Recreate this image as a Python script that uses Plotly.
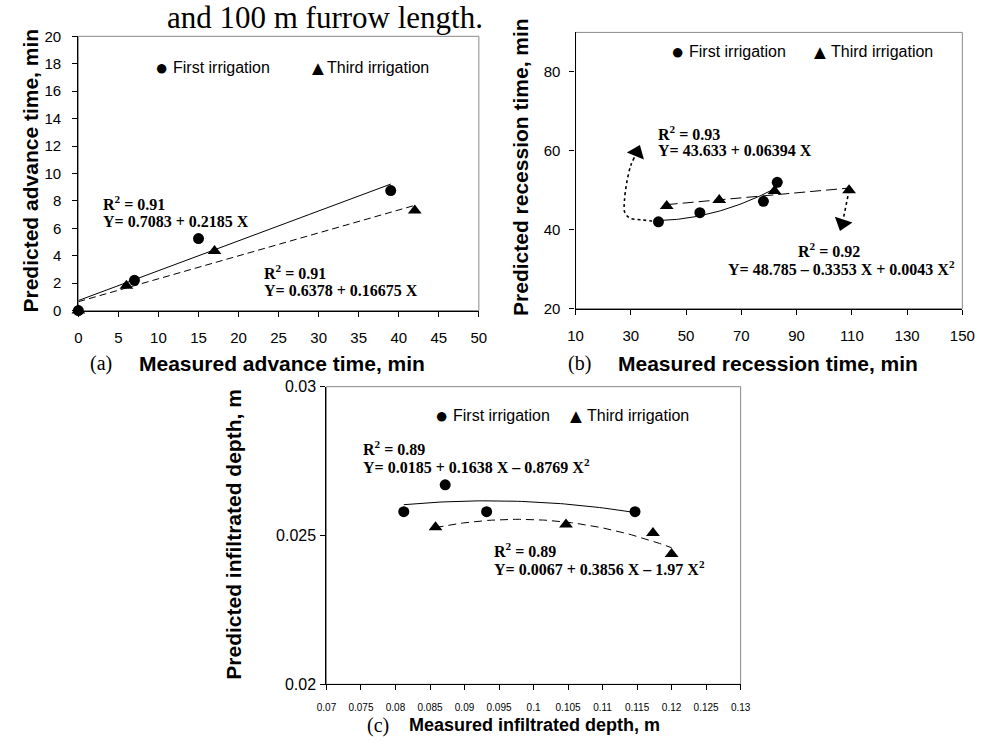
import numpy as np
import plotly.graph_objects as go

W, H = 990, 745

# ---------------- data ----------------
# Panel (a) advance time
a_first_x = [0, 7, 15, 39]
a_first_y = [0, 2.2, 5.25, 8.75]
a_third_x = [0, 6, 17, 42]
a_third_y = [0, 1.8, 4.35, 7.3]

# Panel (b) recession time
b_first_x = [40, 55, 78, 83]
b_first_y = [42, 44.3, 47.2, 52]
b_third_x = [43, 62, 82, 109]
b_third_y = [46, 47.5, 49.8, 50]

# Panel (c) infiltrated depth
c_first_x = [0.0812, 0.0872, 0.0932, 0.1147]
c_first_y = [0.0258, 0.0267, 0.0258, 0.0258]
c_third_x = [0.0858, 0.1047, 0.1173, 0.1200]
c_third_y = [0.02528, 0.02537, 0.02508, 0.02438]

# tick labels
a_xticks = [0, 5, 10, 15, 20, 25, 30, 35, 40, 45, 50]
a_yticks = [0, 2, 4, 6, 8, 10, 12, 14, 16, 18, 20]
b_xticks = [10, 30, 50, 70, 90, 110, 130, 150]
b_yticks = [20, 40, 60, 80]
c_xticks = [0.07, 0.075, 0.08, 0.085, 0.09, 0.095, 0.1, 0.105, 0.11, 0.115, 0.12, 0.125, 0.13]
c_xtext = ["0.07", "0.075", "0.08", "0.085", "0.09", "0.095", "0.1", "0.105", "0.11", "0.115", "0.12", "0.125", "0.13"]
c_yticks = [0.02, 0.025, 0.03]
c_ytext = ["0.02", "0.025", "0.03"]

# dotted pointer paths in panel (b)
b_arrow1_x = [40, 33.9, 29.8, 27.8, 27.7, 28.6, 30.0, 31.3]
b_arrow1_y = [42, 42.5, 42.9, 44.4, 47.2, 52.2, 56.3, 58.3]
b_arrow1_head = (32.2, 59.6)
b_arrow2_x = [109, 108.0, 107.0]
b_arrow2_y = [50, 46.0, 43.0]
b_arrow2_head = (106.6, 41.6)

SANS = "Arial, Liberation Sans, sans-serif"
SERIF = "Times New Roman, Liberation Serif, serif"

fig = go.Figure()


def trend(x, y, deg, n=60):
    coef = np.polyfit(x, y, deg)
    xs = np.linspace(min(x), max(x), n)
    return xs, np.polyval(coef, xs)


def add_panel(fx, fy, tx, ty, deg_f, deg_t, xa, ya, dash):
    xs, ys = trend(fx, fy, deg_f)
    fig.add_trace(go.Scatter(x=xs, y=ys, mode="lines", line=dict(color="black", width=1),
                             xaxis=xa, yaxis=ya, showlegend=False, hoverinfo="skip"))
    xs, ys = trend(tx, ty, deg_t)
    fig.add_trace(go.Scatter(x=xs, y=ys, mode="lines", line=dict(color="black", width=1, dash=dash),
                             xaxis=xa, yaxis=ya, showlegend=False, hoverinfo="skip"))
    fig.add_trace(go.Scatter(x=tx, y=ty, mode="markers", name="Third irrigation",
                             marker=dict(symbol="triangle-up", size=12, color="black"),
                             xaxis=xa, yaxis=ya, showlegend=False, cliponaxis=False))
    fig.add_trace(go.Scatter(x=fx, y=fy, mode="markers", name="First irrigation",
                             marker=dict(symbol="circle", size=11, color="black"),
                             xaxis=xa, yaxis=ya, showlegend=False, cliponaxis=False))


add_panel(a_first_x, a_first_y, a_third_x, a_third_y, 1, 1, "x", "y", "7px,4px")
add_panel(b_first_x, b_first_y, b_third_x, b_third_y, 2, 1, "x2", "y2", "11px,5px")
add_panel(c_first_x, c_first_y, c_third_x, c_third_y, 2, 2, "x3", "y3", "8px,5px")

# dotted pointers (panel b)
fig.add_trace(go.Scatter(x=b_arrow1_x, y=b_arrow1_y, mode="lines",
                         line=dict(color="black", width=1.6, dash="dot", shape="spline"),
                         xaxis="x2", yaxis="y2", showlegend=False, hoverinfo="skip"))
fig.add_trace(go.Scatter(x=b_arrow2_x, y=b_arrow2_y, mode="lines",
                         line=dict(color="black", width=1.6, dash="dot"),
                         xaxis="x2", yaxis="y2", showlegend=False, hoverinfo="skip"))
fig.add_trace(go.Scatter(x=[b_arrow1_head[0]], y=[b_arrow1_head[1]], mode="markers",
                         marker=dict(symbol="triangle-up", size=16, color="black", angle=22),
                         xaxis="x2", yaxis="y2", showlegend=False, hoverinfo="skip"))
fig.add_trace(go.Scatter(x=[b_arrow2_head[0]], y=[b_arrow2_head[1]], mode="markers",
                         marker=dict(symbol="triangle-down", size=16, color="black", angle=18),
                         xaxis="x2", yaxis="y2", showlegend=False, hoverinfo="skip"))


def px(x):
    return x / W


def py(y):
    return 1 - y / H


def axis_common(size=15):
    return dict(showline=True, linecolor="black", linewidth=1.3, ticks="outside", ticklen=5,
                tickcolor="black", tickwidth=1, showgrid=False, zeroline=False,
                tickfont=dict(family=SANS, size=size, color="black"), mirror=False)


fig.update_layout(
    width=W, height=H, margin=dict(l=0, r=0, t=0, b=0),
    paper_bgcolor="white", plot_bgcolor="white",
    xaxis=dict(domain=[px(70), px(480)], range=[0, 50], tickvals=a_xticks, anchor="y",
               ticklabelstandoff=8, **axis_common()),
    yaxis=dict(domain=[py(309), py(28)], range=[0, 20], tickvals=a_yticks, anchor="x",
               ticklabelstandoff=8, **axis_common()),
    xaxis2=dict(domain=[px(579), px(975)], range=[10, 150], tickvals=b_xticks, anchor="y2",
                ticklabelstandoff=8, **axis_common()),
    yaxis2=dict(domain=[py(307), py(24)], range=[20, 90], tickvals=b_yticks, anchor="x2",
                ticklabelstandoff=6, **axis_common()),
    xaxis3=dict(domain=[px(324), px(748)], range=[0.07, 0.13], tickvals=c_xticks, ticktext=c_xtext,
                anchor="y3", ticklabelstandoff=9, **axis_common(10)),
    yaxis3=dict(domain=[py(692), py(387)], range=[0.02, 0.03], tickvals=c_yticks, ticktext=c_ytext,
                anchor="x3", ticklabelstandoff=1, **axis_common(16)),
)

# grey frame (top / right borders)
for xr, yr in [("x", "y"), ("x2", "y2"), ("x3", "y3")]:
    fig.add_shape(type="rect", xref=f"{xr} domain", yref=f"{yr} domain", x0=0, x1=1, y0=0, y1=1,
                  line=dict(color="#8a8a8a", width=1), layer="below")

anns = []


def ann(text, x, y, size, family, xanchor="left", yanchor="middle", angle=0):
    anns.append(dict(text=text, x=px(x), y=py(y), xref="paper", yref="paper", showarrow=False,
                     xanchor=xanchor, yanchor=yanchor, textangle=angle,
                     font=dict(family=family, size=size, color="black")))


# caption fragment at top
ann("and 100 m furrow length.", 159, 9, 31, SERIF)

# axis titles
ann("<b>Predicted advance time, min</b>", 21, 166, 21, SANS, "center", "middle", -90)
ann("<b>Measured advance time, min</b>", 278, 363, 21, SANS, "center")
ann("(a)", 93, 363, 20, SERIF, "center")
ann("<b>Predicted recession time, min</b>", 522, 162, 21, SANS, "center", "middle", -90)
ann("<b>Measured recession time, min</b>", 776, 363, 21, SANS, "center")
ann("(b)", 583, 363, 20, SERIF, "center")
ann("<b>Predicted infiltrated depth, m</b>", 228, 538, 21, SANS, "center", "middle", -90)
ann("<b>Measured infiltrated depth, m</b>", 537, 734, 18, SANS, "center")
ann("(c)", 377, 734, 20, SERIF, "center")

# legends (symbol glyph + label)
for (cx, tx, ly) in [(155, 165, 60), (683, 693, 44), (442, 451, 417)]:
    ann("\u25CF", cx, ly, 22, SANS, "center")
    ann("First irrigation", tx, ly, 16, SANS)
for (cx, tx, ly) in [(315, 323, 60), (829, 838, 44), (579, 589, 417)]:
    ann("\u25B2", cx, ly, 20, SANS, "center")
    ann("Third irrigation", tx, ly, 16, SANS)

# regression labels
ann("<b>R<sup>2</sup> = 0.91</b>", 93, 199, 16, SERIF)
ann("<b>Y= 0.7083 + 0.2185 X</b>", 93, 218, 16, SERIF)
ann("<b>R<sup>2</sup> = 0.91</b>", 258, 269, 16, SERIF)
ann("<b>Y= 0.6378 + 0.16675 X</b>", 258, 288, 16, SERIF)

ann("<b>R<sup>2</sup> = 0.93</b>", 661, 127, 16, SERIF)
ann("<b>Y= 43.633 + 0.06394 X</b>", 661, 145, 16, SERIF)
ann("<b>R<sup>2</sup> = 0.92</b>", 805, 247, 16, SERIF)
ann("<b>Y= 48.785 \u2013 0.3353 X + 0.0043 X<sup>2</sup></b>", 733, 265, 16, SERIF)

ann("<b>R<sup>2</sup> = 0.89</b>", 359, 450, 16, SERIF)
ann("<b>Y= 0.0185 + 0.1638 X \u2013 0.8769 X<sup>2</sup></b>", 359, 468, 16, SERIF)
ann("<b>R<sup>2</sup> = 0.89</b>", 493, 554, 16, SERIF)
ann("<b>Y= 0.0067 + 0.3856 X \u2013 1.97 X<sup>2</sup></b>", 493, 573, 16, SERIF)

fig.update_layout(annotations=anns)

fig.write_html("out.html")
